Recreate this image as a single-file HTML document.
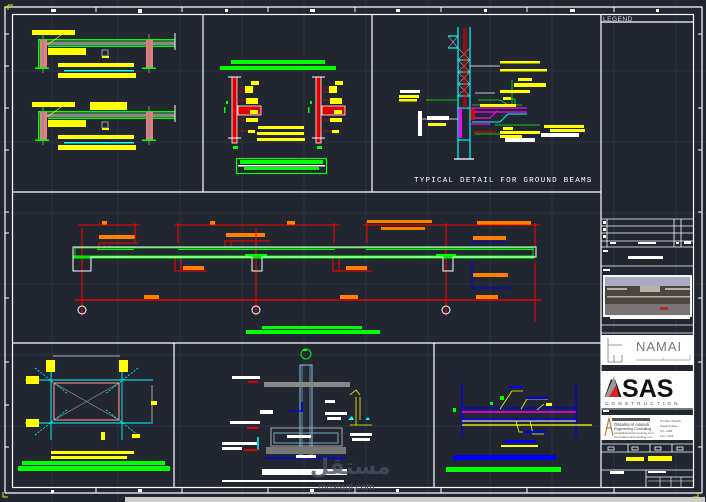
<!DOCTYPE html>
<html><head><meta charset="utf-8"><style>
html,body{margin:0;padding:0;background:#212630;}
svg{display:block;}
text{font-family:"Liberation Sans","Noto Sans CJK SC",sans-serif;}
.ar{font-family:"DejaVu Sans","Liberation Sans",sans-serif;font-weight:bold;}
</style></head><body>
<svg width="706" height="502" viewBox="0 0 706 502" xmlns="http://www.w3.org/2000/svg">
<rect width="706" height="502" fill="#212630"/>
<!-- grid -->
<g stroke="#2c3340" stroke-width="1">
<line x1="52" y1="0" x2="52" y2="502"/><line x1="118" y1="0" x2="118" y2="502"/><line x1="180" y1="0" x2="180" y2="502"/><line x1="242" y1="0" x2="242" y2="502"/><line x1="304" y1="0" x2="304" y2="502"/><line x1="366" y1="0" x2="366" y2="502"/><line x1="428" y1="0" x2="428" y2="502"/><line x1="490" y1="0" x2="490" y2="502"/><line x1="552" y1="0" x2="552" y2="502"/><line x1="614" y1="0" x2="614" y2="502"/><line x1="676" y1="0" x2="676" y2="502"/>
<line x1="0" y1="71" x2="706" y2="71"/><line x1="0" y1="142" x2="706" y2="142"/><line x1="0" y1="213" x2="706" y2="213"/><line x1="0" y1="284" x2="706" y2="284"/><line x1="0" y1="355" x2="706" y2="355"/><line x1="0" y1="426" x2="706" y2="426"/>
</g>
<!-- frames -->
<g stroke="#fff" fill="none" stroke-width="1.2">
<polyline points="5,493 5,7 702,7 702,493"/>
<line x1="5" y1="493" x2="702" y2="493"/>
<rect x="12.5" y="14.5" width="681" height="473"/>
<line x1="12" y1="192" x2="601" y2="192"/>
<line x1="12" y1="343" x2="601" y2="343"/>
<line x1="203" y1="14" x2="203" y2="192"/>
<line x1="372" y1="14" x2="372" y2="192"/>
<line x1="174" y1="343" x2="174" y2="487"/>
<line x1="434" y1="343" x2="434" y2="487"/>
<line x1="601" y1="14" x2="601" y2="487"/>
<line x1="601" y1="22" x2="694" y2="22"/>
</g>
<!-- ticks -->
<g stroke="#fff" stroke-width="1">
<line x1="96" y1="7" x2="96" y2="12"/><line x1="182" y1="7" x2="182" y2="12"/><line x1="268" y1="7" x2="268" y2="12"/><line x1="355" y1="7" x2="355" y2="12"/><line x1="441" y1="7" x2="441" y2="12"/><line x1="527" y1="7" x2="527" y2="12"/><line x1="614" y1="7" x2="614" y2="12"/>
<line x1="96" y1="488" x2="96" y2="493"/><line x1="182" y1="488" x2="182" y2="493"/><line x1="268" y1="488" x2="268" y2="493"/><line x1="355" y1="488" x2="355" y2="493"/><line x1="441" y1="488" x2="441" y2="493"/><line x1="527" y1="488" x2="527" y2="493"/><line x1="614" y1="488" x2="614" y2="493"/>
<line x1="5" y1="34" x2="9" y2="34"/><line x1="5" y1="66" x2="9" y2="66"/><line x1="5" y1="108" x2="9" y2="108"/><line x1="5" y1="150" x2="9" y2="150"/><line x1="5" y1="212" x2="9" y2="212"/><line x1="5" y1="233" x2="9" y2="233"/><line x1="5" y1="298" x2="9" y2="298"/><line x1="5" y1="362" x2="9" y2="362"/><line x1="5" y1="405" x2="9" y2="405"/><line x1="5" y1="447" x2="9" y2="447"/>
<line x1="698" y1="34" x2="702" y2="34"/><line x1="698" y1="108" x2="702" y2="108"/><line x1="698" y1="150" x2="702" y2="150"/><line x1="698" y1="212" x2="702" y2="212"/><line x1="698" y1="298" x2="702" y2="298"/><line x1="698" y1="362" x2="702" y2="362"/><line x1="698" y1="447" x2="702" y2="447"/>
</g>
<g fill="#fff"><rect x="51" y="9" width="5" height="3"/><rect x="138" y="9" width="4" height="4"/><rect x="225" y="9" width="3" height="3"/><rect x="310" y="9" width="5" height="3"/><rect x="396" y="9" width="4" height="3"/><rect x="484" y="9" width="3" height="3"/><rect x="570" y="9" width="5" height="3"/><rect x="656" y="9" width="3" height="3"/>
<rect x="51" y="490" width="3" height="3"/><rect x="138" y="489" width="4" height="3"/><rect x="310" y="489" width="4" height="3"/><rect x="396" y="489" width="3" height="3"/></g>
<path d="M8 5 H13 M8 5 V10" stroke="#e6e600" fill="none"/>
<path d="M698 497 H693 M698 497 V492" stroke="#e6e600" fill="none"/>
<path d="M3 492 V497 H8" stroke="#e6e600" fill="none"/>

<!-- PANEL 1: two slab details -->
<g id="d1">
<rect x="32" y="30" width="43" height="5" fill="#ffff00"/>
<rect x="38" y="39" width="137" height="1.5" fill="#00ff00"/>
<rect x="48" y="45.5" width="127" height="1.5" fill="#00ff00"/>
<rect x="45" y="41.5" width="130" height="3.5" fill="#888"/>
<rect x="38" y="39" width="1.5" height="29" fill="#00ff00"/>
<rect x="40" y="40" width="7" height="28" fill="#e08080"/>
<rect x="146" y="40" width="7" height="28" fill="#e08080"/>
<g stroke="#888" stroke-width="1"><line x1="43" y1="35" x2="43" y2="73"/><line x1="149" y1="34" x2="149" y2="73"/></g>
<rect x="35" y="67.5" width="14" height="1.5" fill="#00ff00"/><rect x="142" y="67.5" width="14" height="1.5" fill="#00ff00"/>
<line x1="47" y1="45" x2="64" y2="33" stroke="#ffff00" stroke-width="0.7"/>
<rect x="48" y="48" width="38" height="7" fill="#ffff00"/>
<rect x="102" y="50" width="6" height="6" fill="none" stroke="#999"/>
<rect x="102" y="56" width="7" height="2" fill="#ffff00"/>
<rect x="58" y="63" width="76" height="4" fill="#ffff00"/>
<rect x="64" y="70" width="70" height="1.5" fill="#00ffff"/>
<rect x="58" y="73" width="78" height="5" fill="#ffff00"/>
<line x1="175" y1="33" x2="175" y2="50" stroke="#fff"/>
</g>
<use href="#d1" transform="translate(0,72)"/>
<rect x="90" y="102" width="37" height="8" fill="#ffff00"/>

<!-- PANEL 2: column sections -->
<rect x="231" y="60" width="94" height="4" fill="#00ff00"/>
<rect x="220" y="66" width="116" height="4" fill="#00ff00"/>
<g id="c1">
<rect x="232" y="77" width="5" height="66" fill="#e00000"/>
<rect x="232" y="77" width="5" height="66" fill="none" stroke="#fff" stroke-width="0.8"/>
<line x1="228" y1="77" x2="241" y2="77" stroke="#fff"/><line x1="228" y1="138" x2="241" y2="138" stroke="#fff"/>
<rect x="238" y="106" width="23" height="9" fill="#e00000"/>
<rect x="238" y="106" width="23" height="9" fill="none" stroke="#fff" stroke-width="0.8"/>
<rect x="233" y="146" width="5" height="3" fill="#00ff00"/>
<rect x="226" y="101" width="2" height="3" fill="#00ff00"/>
<rect x="224" y="107" width="1.5" height="6" fill="#00ff00"/>
<g stroke="#e00000" stroke-width="0.7"><line x1="237" y1="88" x2="251" y2="88"/><line x1="237" y1="92" x2="248" y2="92"/><line x1="237" y1="100" x2="250" y2="100"/><line x1="237" y1="120" x2="252" y2="120"/><line x1="237" y1="131" x2="248" y2="131"/></g>
<rect x="251" y="81" width="8" height="4" fill="#ffff00"/><rect x="245" y="86" width="8" height="7" fill="#ffff00"/><rect x="246" y="98" width="12" height="6" fill="#ffff00"/><rect x="250" y="110" width="8" height="4" fill="#ffff00"/><rect x="246" y="118" width="12" height="4" fill="#ffff00"/><rect x="248" y="130" width="7" height="3" fill="#ffff00"/>
</g>
<use href="#c1" transform="translate(84,0)"/>
<rect x="258" y="126" width="46" height="3" fill="#ffff00"/>
<rect x="257" y="132" width="47" height="3" fill="#ffff00"/>
<rect x="257" y="138" width="48" height="3" fill="#ffff00"/>
<rect x="236.5" y="158.5" width="90" height="15" fill="none" stroke="#00ff00" stroke-width="1.2"/>
<rect x="240" y="160" width="83" height="4" fill="#00ff00"/>
<rect x="238" y="165" width="87" height="1.5" fill="#fff"/>
<rect x="244" y="167" width="75" height="3" fill="#00ff00"/>

<!-- PANEL 3: ground beam -->
<g stroke="#00ffff" stroke-width="1.2" fill="none">
<line x1="458" y1="27" x2="458" y2="159"/><line x1="470" y1="27" x2="470" y2="159"/>
<line x1="448" y1="36" x2="458" y2="36"/><line x1="448" y1="48" x2="458" y2="48"/>
<line x1="458" y1="60" x2="470" y2="60"/><line x1="458" y1="72" x2="470" y2="72"/><line x1="458" y1="84" x2="470" y2="84"/><line x1="458" y1="96" x2="470" y2="96"/><line x1="458" y1="108" x2="470" y2="108"/><line x1="458" y1="140" x2="470" y2="140"/>
<line x1="454" y1="159" x2="474" y2="159" stroke="#fff"/>
</g>
<g stroke="#aaa" stroke-width="0.6"><path d="M448 36 L458 48 M458 36 L448 48 M458 48 L470 60 M470 48 L458 60 M458 60 L470 72 M470 60 L458 72 M458 72 L470 84 M470 72 L458 84 M458 84 L470 96 M470 84 L458 96"/></g>
<line x1="464" y1="28" x2="464" y2="108" stroke="#e00000" stroke-width="1.2"/>
<line x1="466" y1="28" x2="466" y2="108" stroke="#e00000" stroke-width="1"/>
<rect x="459" y="108" width="3" height="30" fill="#ff00ff"/>
<rect x="471" y="108" width="4" height="12" fill="#e00000"/>
<path d="M470 108 H527 M474 112 H527 M474 118 H490 L497 111 M470 124 H490" stroke="#ff00ff" stroke-width="1.2" fill="none"/>
<path d="M472 122 H500 L508 114 H527" stroke="#00ffff" fill="none"/>
<path d="M473 132 H496" stroke="#e00000" stroke-width="1.2"/>
<path d="M472 105 H522 M512 80 V106 M507 99 H515 V104 M478 100 H500 L510 106 M495 125 H540 M458 100 H426 M475 134 H500" stroke="#00ff00" fill="none" stroke-width="0.8"/>
<path d="M470 66 H500 M475 93 H495 M420 119 H458" stroke="#fff" stroke-width="0.8"/>
<g fill="#ffff00"><rect x="500" y="61" width="40" height="2.5"/><rect x="500" y="69" width="47" height="2.5"/><rect x="518" y="78" width="14" height="3"/><rect x="514" y="83" width="32" height="4"/><rect x="500" y="90" width="30" height="3"/><rect x="503" y="97" width="8" height="3"/><rect x="480" y="104" width="36" height="3"/><rect x="399" y="95" width="20" height="3"/><rect x="399" y="99" width="18" height="2.5"/><rect x="544" y="125" width="40" height="3"/><rect x="550" y="129" width="35" height="3"/><rect x="503" y="127" width="10" height="3"/><rect x="500" y="131" width="40" height="3"/><rect x="500" y="135" width="22" height="3"/><rect x="428" y="123" width="18" height="3"/></g>
<g fill="#fff"><rect x="400" y="90" width="20" height="3"/><rect x="427" y="116" width="22" height="4"/><rect x="418" y="111" width="4" height="25"/><rect x="541" y="133" width="38" height="4"/><rect x="505" y="138" width="30" height="4"/></g>
<text x="414" y="182" font-size="7.6" fill="#fff" letter-spacing="1.2" style="font-family:'Liberation Mono',monospace">TYPICAL DETAIL FOR GROUND BEAMS</text>

<!-- MIDDLE: beam elevation -->
<g fill="#ff8000"><rect x="102" y="221" width="5" height="4"/><rect x="210" y="221" width="5" height="4"/><rect x="287" y="221" width="8" height="4"/><rect x="367" y="220" width="65" height="3"/><rect x="381" y="227" width="44" height="3"/><rect x="477" y="221" width="54" height="4"/>
<rect x="99" y="235" width="36" height="4"/><rect x="226" y="233" width="39" height="4"/><rect x="473" y="236" width="33" height="4"/>
<rect x="183" y="266" width="21" height="4"/><rect x="346" y="266" width="21" height="4"/><rect x="473" y="273" width="35" height="4"/>
<rect x="144" y="295" width="15" height="4"/><rect x="340" y="295" width="18" height="4"/><rect x="476" y="295" width="22" height="4"/></g>
<g stroke="#ff0000" stroke-width="1" fill="none">
<line x1="78" y1="225" x2="140" y2="225"/><line x1="175" y1="225" x2="340" y2="225"/><line x1="363" y1="225" x2="540" y2="225"/>
<line x1="82" y1="228" x2="82" y2="316"/><line x1="256" y1="228" x2="256" y2="316"/><line x1="446" y1="223" x2="446" y2="316"/><line x1="535" y1="223" x2="535" y2="247"/><line x1="535" y1="262" x2="535" y2="322"/>
<line x1="135" y1="223" x2="135" y2="243"/><line x1="178" y1="223" x2="178" y2="243"/><line x1="334" y1="223" x2="334" y2="243"/><line x1="367" y1="223" x2="367" y2="243"/>
<polyline points="99,249 99,243 138,243"/><polyline points="104,249 104,245"/><polyline points="110,249 110,245"/>
<polyline points="225,247 225,241 271,241"/><polyline points="231,247 231,241"/>
<polyline points="175,257 175,271 207,271"/><polyline points="181,257 181,271"/>
<polyline points="333,257 333,271 372,271"/><polyline points="339,257 339,271"/>
<line x1="75" y1="300" x2="541" y2="300" stroke-width="1.3"/>
</g>
<path d="M472 249 V242 H508 M472 257 V288 H513" stroke="#0000ff" fill="none"/>
<rect x="74" y="256" width="460" height="2" fill="none" stroke="#00ff00" stroke-width="1"/>
<rect x="75" y="248" width="458" height="9" fill="none" stroke="#00ff00" stroke-width="0.8"/>
<path d="M73 247 H536 V257 H453 V271 H443 V257 H262 V271 H252 V257 H91 V271 H73 Z" fill="none" stroke="#fff" stroke-width="1"/>
<g fill="#00ff00"><rect x="97" y="249" width="37" height="1"/><rect x="178" y="249" width="157" height="1"/><rect x="366" y="249" width="168" height="1"/><rect x="245" y="254" width="22" height="1.5"/><rect x="436" y="254" width="20" height="1.5"/></g>
<g fill="#fff" stroke="#fff"><circle cx="82" cy="310" r="4" fill="none"/><circle cx="256" cy="310" r="4" fill="none"/><circle cx="446" cy="310" r="4" fill="none"/></g>
<rect x="246" y="330" width="134" height="4" fill="#00ff00"/>
<rect x="262" y="326" width="100" height="3" fill="#00ff00"/>
<rect x="303" y="349" width="4" height="2" fill="#00ff00"/>

<!-- BOTTOM 1: footing plan -->
<line x1="53" y1="356" x2="120" y2="356" stroke="#aaa"/>
<rect x="54" y="383" width="65" height="37" fill="none" stroke="#f08080" stroke-width="1.2"/>
<path d="M54 383 L119 420 M119 383 L54 420" stroke="#999" stroke-width="0.7"/>
<g stroke="#00ffff" stroke-width="0.9"><line x1="25" y1="380" x2="153" y2="380"/><line x1="25" y1="423" x2="153" y2="423"/><line x1="51" y1="365" x2="51" y2="440"/><line x1="122" y1="365" x2="122" y2="440"/></g>
<g stroke="#00ffff" stroke-width="0.8" stroke-dasharray="2,1.5"><line x1="35" y1="368" x2="68" y2="394"/><line x1="138" y1="368" x2="105" y2="394"/><line x1="35" y1="435" x2="68" y2="409"/><line x1="138" y1="435" x2="105" y2="409"/></g>
<line x1="152" y1="385" x2="152" y2="422" stroke="#aaa"/>
<g fill="#ffff00"><rect x="46" y="360" width="9" height="12"/><rect x="119" y="360" width="9" height="12"/><rect x="26" y="376" width="13" height="8"/><rect x="26" y="419" width="13" height="8"/><rect x="151" y="401" width="6" height="4"/><rect x="101" y="432" width="4" height="8"/><rect x="132" y="434" width="8" height="4"/><rect x="51" y="451" width="83" height="3"/><rect x="51" y="456" width="76" height="3"/></g>
<rect x="18" y="466" width="152" height="5" fill="#00ff00"/>
<rect x="22" y="461" width="143" height="4" fill="#00ff00"/>

<!-- BOTTOM 2: column footing section -->
<circle cx="306" cy="354" r="5" fill="none" stroke="#00ff00"/>
<rect x="300" y="365" width="12" height="93" fill="none" stroke="#7ab" stroke-width="1.2"/>
<path d="M302 365 V458 M310 365 V458" stroke="#7ab" stroke-width="0.8"/>
<rect x="264" y="382" width="86" height="5" fill="#888"/>
<rect x="271" y="428" width="71" height="18" fill="none" stroke="#aaa"/>
<rect x="274" y="433" width="64" height="10" fill="none" stroke="#7ab"/>
<rect x="266" y="447" width="80" height="7" fill="#777"/>
<line x1="265" y1="458" x2="346" y2="458" stroke="#00f" stroke-width="1.5"/>
<line x1="258" y1="437" x2="258" y2="450" stroke="#0ff" stroke-width="1.5"/>
<path d="M287 411 H303 M302 402 V412" stroke="#00f" stroke-width="1.3"/>
<path d="M350 395 L356 390 L360 395 M356 397 V425 M360 397 V420 M350 425 H372" stroke="#ffff00" fill="none" stroke-width="0.8"/>
<path d="M348 420 L352 416 L354 420 Z M365 420 L368 417 L370 420 Z" fill="#0ff"/>
<g fill="#fff"><rect x="232" y="376" width="28" height="3"/><rect x="230" y="421" width="30" height="3"/><rect x="222" y="442" width="35" height="3"/><rect x="222" y="447" width="20" height="3"/><rect x="260" y="410" width="13" height="4"/><rect x="325" y="400" width="10" height="3"/><rect x="325" y="412" width="22" height="3"/><rect x="327" y="417" width="14" height="3"/><rect x="287" y="435" width="24" height="3"/><rect x="350" y="433" width="22" height="3"/><rect x="352" y="438" width="18" height="3"/><rect x="296" y="455" width="20" height="3"/></g>
<g fill="#e00000"><rect x="248" y="381" width="10" height="2"/><rect x="247" y="427" width="12" height="2"/><rect x="244" y="449" width="14" height="2"/></g>
<rect x="262" y="469" width="85" height="6" fill="#fff"/>
<rect x="222" y="480" width="122" height="2" fill="#fff"/>
<text x="310" y="474" font-size="22" fill="#4a5060" opacity="0.8" class="ar" style="font-family:'DejaVu Sans',sans-serif">مستقل</text>
<text x="318" y="490" font-size="10" fill="#4a5060" style="font-family:'Liberation Sans',sans-serif">mostaql.com</text>
<rect x="125" y="497" width="580" height="5" fill="#ccc"/>

<!-- BOTTOM 3 -->
<g stroke="#00f" stroke-width="1.3"><line x1="462" y1="383" x2="462" y2="437"/><line x1="576" y1="383" x2="576" y2="437"/><line x1="462" y1="408" x2="576" y2="408"/><line x1="462" y1="419" x2="576" y2="419"/></g>
<line x1="462" y1="412" x2="576" y2="412" stroke="#ff00ff" stroke-width="1.5"/>
<line x1="462" y1="425" x2="592" y2="425" stroke="#ffff00" stroke-width="1.2"/>
<line x1="462" y1="421" x2="576" y2="421" stroke="#fff" stroke-width="1"/>
<path d="M500 409 L512 391 H523 M521 409 L527 399 H548 M537 410 L544 404 M516 421 L519 432 H545 M530 421 L533 434 H544" stroke="#ffff00" fill="none" stroke-width="0.8"/>
<g fill="#00f"><rect x="509" y="386" width="14" height="2"/><rect x="526" y="397" width="22" height="2"/><rect x="523" y="431" width="23" height="2"/><rect x="504" y="440" width="32" height="3"/></g>
<rect x="501" y="445" width="37" height="2" fill="#ffff00"/>
<rect x="546" y="403" width="6" height="3" fill="#ffff00"/>
<g fill="#00ff00"><rect x="500" y="396" width="4" height="4"/><rect x="490" y="402" width="3" height="3"/><rect x="453" y="408" width="3" height="4"/></g>
<rect x="453" y="455" width="103" height="5" fill="#00f"/>
<rect x="446" y="467" width="115" height="5" fill="#00ff00"/>

<!-- LEGEND column -->
<text x="603" y="21" font-size="6.5" fill="#ddd" letter-spacing="0.5">LEGEND</text>
<g stroke="#fff" stroke-width="0.8" fill="none">
<line x1="601" y1="219" x2="694" y2="219"/><line x1="601" y1="226" x2="694" y2="226"/><line x1="601" y1="233" x2="694" y2="233"/><line x1="601" y1="241" x2="694" y2="241"/><line x1="601" y1="247" x2="694" y2="247"/>
<line x1="607" y1="219" x2="607" y2="247"/><line x1="674" y1="219" x2="674" y2="247"/><line x1="681" y1="219" x2="681" y2="247"/>
<line x1="601" y1="266" x2="694" y2="266"/><line x1="601" y1="325" x2="694" y2="325"/><line x1="601" y1="333" x2="694" y2="333"/>
<line x1="601" y1="409" x2="694" y2="409"/><line x1="601" y1="444" x2="694" y2="444"/><line x1="601" y1="452" x2="694" y2="452"/><line x1="601" y1="470" x2="694" y2="470"/>
<line x1="646" y1="470" x2="646" y2="487"/><line x1="646" y1="477" x2="694" y2="477"/>
<line x1="628" y1="444" x2="628" y2="452"/><line x1="650" y1="444" x2="650" y2="452"/><line x1="672" y1="444" x2="672" y2="452"/>
</g>
<g fill="#fff"><rect x="603" y="221" width="3" height="3"/><rect x="603" y="228" width="3" height="3"/><rect x="603" y="235" width="3" height="3"/><rect x="610" y="242" width="6" height="2"/><rect x="638" y="242" width="18" height="2"/><rect x="676" y="242" width="3" height="2"/><rect x="684" y="241" width="7" height="3"/><rect x="628" y="256" width="35" height="3"/><rect x="603" y="250" width="5" height="2"/><rect x="603" y="269" width="7" height="2"/><rect x="603" y="336" width="8" height="2"/><rect x="603" y="410" width="6" height="2"/><rect x="610" y="316" width="80" height="3"/><rect x="610" y="471" width="14" height="3"/><rect x="648" y="471" width="18" height="2"/></g>
<!-- photo -->
<rect x="603" y="275" width="89" height="42" fill="#f4f4f4"/>
<rect x="605" y="277" width="85" height="38" fill="#8a8a98"/>
<rect x="605" y="277" width="85" height="9" fill="#a9a9c0"/>
<rect x="605" y="286" width="85" height="18" fill="#4d4640"/>
<g fill="#b8b2a8"><rect x="607" y="288" width="20" height="2"/><rect x="640" y="286" width="20" height="6"/><rect x="665" y="288" width="25" height="2"/><rect x="607" y="296" width="83" height="1.5"/></g>
<rect x="605" y="304" width="85" height="11" fill="#7a7575"/>
<rect x="660" y="307" width="8" height="3" fill="#b03030"/>
<!-- NAMAI -->
<rect x="601" y="335" width="93" height="30" fill="#fff"/>
<path d="M608 338 V362 H622 V355 M608 345 H622 M614 355 V362" stroke="#777" fill="none" stroke-width="0.8"/>
<text x="636" y="351" font-size="13" fill="#777" letter-spacing="1" style="font-family:'Liberation Sans',sans-serif">NAMAI</text>
<path d="M636 360 H690 V355 M663 360 V358" stroke="#999" fill="none" stroke-width="0.8"/>
<!-- ASAS -->
<rect x="601" y="371" width="93" height="37" fill="#fff"/>
<text x="604" y="397" font-size="25" font-weight="bold" fill="#111" style="font-family:'Liberation Sans',sans-serif">ASAS</text>
<path d="M605 397 L614 376 L619 397 Z" fill="#999"/>
<path d="M609 397 L616 385 L619 397 Z" fill="#e02020"/>
<text x="605" y="405" font-size="4.5" fill="#444" letter-spacing="3.3">CONSTRUCTION</text>
<!-- consultant -->
<rect x="601" y="415" width="93" height="25" fill="#fff"/>
<path d="M605 436 L609 418 L613 436 M606 428 H612" stroke="#b08040" fill="none" stroke-width="1.2"/>
<text x="614" y="426" font-size="4.2" fill="#333">Ossama Al Assouli</text>
<text x="614" y="430" font-size="3.6" fill="#333">Engineering Consulting</text>
<text x="614" y="434" font-size="3" fill="#555">info@alassouliconsulting.com</text>
<text x="614" y="438" font-size="3" fill="#555">www.alassouliconsulting.com</text>
<text x="660" y="422" font-size="3" fill="#555">P.O.Box Riyadh</text>
<text x="660" y="427" font-size="3" fill="#555">Saudi Arabia</text>
<text x="660" y="432" font-size="3" fill="#555">Tel: +966</text>
<text x="660" y="437" font-size="3" fill="#555">Fax: +966</text>
<rect x="612" y="418" width="38" height="3" fill="#555"/>
<g fill="none" stroke="#fff" stroke-width="0.8"><rect x="608" y="447" width="6" height="3"/><rect x="632" y="447" width="6" height="3"/><rect x="655" y="447" width="6" height="3"/><rect x="677" y="447" width="6" height="3"/></g>
<rect x="626" y="457" width="18" height="4" fill="#ffff00"/><rect x="648" y="456" width="24" height="5" fill="#ffff00"/>
<g stroke="#fff" stroke-width="0.6"><line x1="648" y1="481" x2="694" y2="481"/><line x1="660" y1="477" x2="660" y2="487"/><line x1="671" y1="477" x2="671" y2="487"/><line x1="681" y1="477" x2="681" y2="487"/></g>
</svg>
</body></html>
